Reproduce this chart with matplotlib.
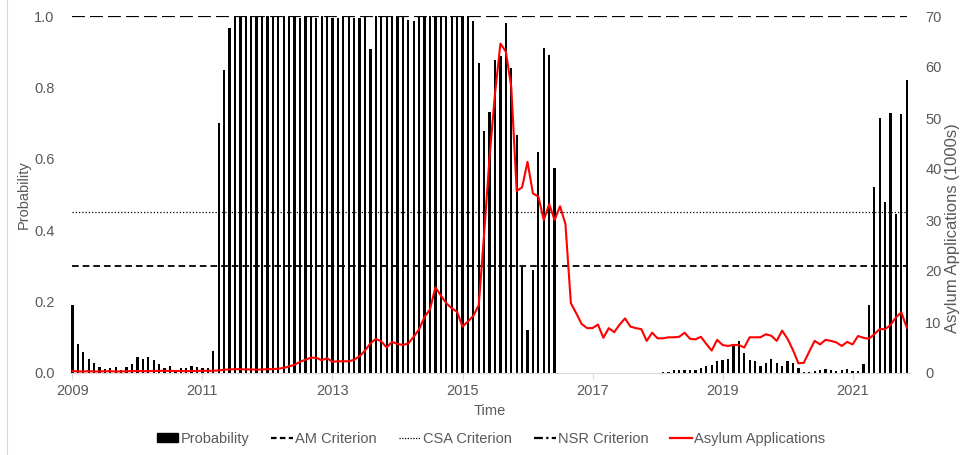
import matplotlib
matplotlib.use("Agg")
import matplotlib.pyplot as plt
from matplotlib.patches import Patch
from matplotlib.lines import Line2D

plt.rcParams['font.family'] = ['Liberation Sans', 'DejaVu Sans']

GREY = '#595959'

# monthly probability, Jan 2009 .. Nov 2021
prob_2009 = [0.19, 0.08, 0.058, 0.039, 0.027, 0.018, 0.012, 0.014, 0.017, 0.008, 0.016, 0.024]
prob_2010 = [0.046, 0.040, 0.044, 0.037, 0.025, 0.014, 0.019, 0.008, 0.015, 0.015, 0.020, 0.016]
prob_2011 = [0.013, 0.013, 0.063, 0.70, 0.849, 0.967, 1.0, 1.0, 1.0, 1.0, 1.0, 1.0]
prob_2012 = [1.0, 1.0, 1.0, 1.0, 1.0, 1.0, 0.995, 1.0, 1.0, 0.995, 1.0, 1.0]
prob_2013 = [0.995, 0.995, 1.0, 1.0, 0.995, 0.995, 1.0, 0.907, 1.0, 1.0, 1.0, 1.0]
prob_2014 = [1.0, 1.0, 0.989, 0.986, 1.0, 1.0, 1.0, 1.0, 1.0, 1.0, 1.0, 1.0]
prob_2015 = [1.0, 1.0, 0.987, 0.867, 0.678, 0.730, 0.877, 0.888, 0.98, 0.855, 0.668, 0.30]
prob_2016 = [0.12, 0.288, 0.618, 0.909, 0.891, 0.573, 0, 0, 0, 0, 0, 0]
prob_2017 = [0, 0, 0, 0, 0, 0, 0, 0, 0, 0, 0, 0]
prob_2018 = [0.001, 0.002, 0.004, 0.009, 0.008, 0.008, 0.008, 0.009, 0.015, 0.021, 0.022, 0.034]
prob_2019 = [0.036, 0.040, 0.076, 0.089, 0.056, 0.036, 0.034, 0.021, 0.029, 0.040, 0.029, 0.020]
prob_2020 = [0.035, 0.028, 0.013, 0.003, 0.003, 0.006, 0.008, 0.010, 0.008, 0.007, 0.008, 0.012]
prob_2021 = [0.005, 0.007, 0.024, 0.19, 0.52, 0.714, 0.48, 0.728, 0.445, 0.725, 0.822]

# asylum applications, thousands per month
asy_2009 = [0.4, 0.3, 0.3, 0.35, 0.3, 0.3, 0.35, 0.35, 0.3, 0.3, 0.35, 0.35]
asy_2010 = [0.4, 0.35, 0.35, 0.4, 0.4, 0.45, 0.4, 0.4, 0.4, 0.35, 0.4, 0.4]
asy_2011 = [0.45, 0.4, 0.45, 0.5, 0.65, 0.7, 0.75, 0.75, 0.7, 0.7, 0.65, 0.7]
asy_2012 = [0.75, 0.75, 0.85, 1.0, 1.3, 1.6, 2.2, 2.6, 3.0, 3.0, 2.5, 2.9]
asy_2013 = [2.2, 2.3, 2.3, 2.3, 2.6, 3.3, 4.4, 5.8, 6.7, 6.2, 5.0, 6.1]
asy_2014 = [5.7, 5.5, 5.8, 7.1, 8.6, 11.0, 12.5, 16.8, 15.2, 13.7, 12.7, 12.0]
asy_2015 = [9.1, 10.1, 11.2, 13.3, 27.4, 42.4, 54.8, 64.6, 63.0, 56.1, 35.7, 36.4]
asy_2016 = [41.4, 35.2, 34.6, 30.0, 33.1, 30.0, 32.7, 29.2, 13.7, 11.7, 9.6, 8.8]
asy_2017 = [8.8, 9.5, 6.9, 8.8, 8.0, 9.5, 10.7, 9.1, 8.8, 8.6, 6.3, 7.9]
asy_2018 = [6.8, 6.8, 7.0, 7.0, 7.1, 7.9, 6.7, 6.6, 7.1, 5.7, 4.4, 6.5]
asy_2019 = [5.5, 5.3, 5.5, 5.5, 5.0, 7.0, 7.0, 7.0, 7.6, 7.3, 6.3, 8.3]
asy_2020 = [6.7, 4.5, 1.9, 2.0, 4.2, 6.3, 5.6, 6.5, 6.3, 6.0, 5.3, 6.1]
asy_2021 = [5.6, 7.25, 6.9, 6.7, 7.6, 8.6, 8.6, 9.4, 10.9, 11.9, 8.9]

am_level = 0.3
csa_level = 0.45
nsr_level = 1.0

year_labels = ['2009', '2011', '2013', '2015', '2017', '2019', '2021']

prob = (prob_2009 + prob_2010 + prob_2011 + prob_2012 + prob_2013 + prob_2014 + prob_2015
        + prob_2016 + prob_2017 + prob_2018 + prob_2019 + prob_2020 + prob_2021)
asylum = (asy_2009 + asy_2010 + asy_2011 + asy_2012 + asy_2013 + asy_2014 + asy_2015
          + asy_2016 + asy_2017 + asy_2018 + asy_2019 + asy_2020 + asy_2021)
months = list(range(len(prob)))

fig = plt.figure(figsize=(9.6, 4.55), dpi=100)
ax = fig.add_axes([70 / 960, 82 / 455, 840 / 960, 357 / 455])
ax2 = ax.twinx()

ax.bar(months, prob, width=0.42, color='black', zorder=2)
ax.plot(months, [am_level] * len(months), color='black', lw=1.3, dashes=(3.7, 2.2), zorder=3)
ax.plot(months, [csa_level] * len(months), color='black', lw=0.9, dashes=(1, 1.6), zorder=3)
ax.plot(months, [nsr_level] * len(months), color='black', lw=1.6, dashes=(5.8, 2.3), zorder=3)
ax2.plot(months, asylum, color='#ff0000', lw=1.5)

ax.set_xlim(-0.45, 154.6)
ax.set_ylim(0, 1.0)
ax2.set_ylim(0, 70)
ax.set_yticks([0, 0.2, 0.4, 0.6, 0.8, 1.0])
ax.set_yticklabels(['0.0', '0.2', '0.4', '0.6', '0.8', '1.0'])
ax2.set_yticks(range(0, 71, 10))
ax.set_xticks([24 * i for i in range(len(year_labels))])
ax.set_xticklabels(year_labels)

for a in (ax, ax2):
    for side in ('top', 'left', 'right', 'bottom'):
        a.spines[side].set_visible(False)
ax.spines['bottom'].set_visible(True)
ax.spines['bottom'].set_color('#d9d9d9')

ax.tick_params(axis='y', length=0, pad=11, labelsize=10.5, labelcolor=GREY)
ax2.tick_params(axis='y', length=0, pad=11, labelsize=10.5, labelcolor=GREY)
ax.tick_params(axis='x', length=4, color='#d9d9d9', pad=4, labelsize=10.5, labelcolor=GREY)

ax.set_xlabel('Time', fontsize=10.5, color=GREY, labelpad=4)
ax.set_ylabel('Probability', fontsize=10.5, color=GREY, labelpad=2.5)
ax2.set_ylabel('Asylum Applications (1000s)', fontsize=12, color=GREY,
               va='center', ha='center')
ax2.yaxis.set_label_coords((952 - 70) / 840, (373 - 228) / 357)

handles = [
    Patch(facecolor='black', edgecolor='black'),
    Line2D([], [], color='black', lw=1.6, dashes=(2.5, 1.5)),
    Line2D([], [], color='black', lw=0.9, dashes=(1, 1.2)),
    Line2D([], [], color='black', lw=1.6, dashes=(4, 1.5, 1, 1.5)),
    Line2D([], [], color='#ff0000', lw=1.6),
]
labels = ['Probability', 'AM Criterion', 'CSA Criterion', 'NSR Criterion', 'Asylum Applications']
leg = fig.legend(handles, labels, loc='center', bbox_to_anchor=(491 / 960, 1 - 439 / 455),
                 ncol=5, frameon=False, fontsize=10.5, handlelength=1.5, handleheight=0.6,
                 handletextpad=0.15, columnspacing=1.5)
for t in leg.get_texts():
    t.set_color(GREY)

fig.add_artist(Line2D([7 / 960, 7 / 960], [0, 1], color='#d9d9d9', lw=0.8))

fig.savefig('out.png', dpi=100)
